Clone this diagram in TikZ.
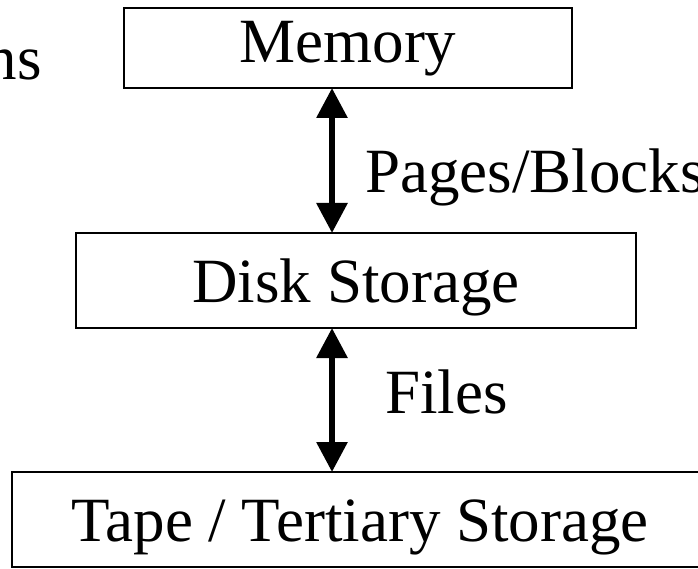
\documentclass[tikz,border=0pt]{standalone}
\usepackage{fontspec}
\setmainfont{Liberation Serif}
\usetikzlibrary{arrows.meta}
\begin{document}
\begin{tikzpicture}[x=1pt,y=1pt,
  box/.style={draw, line width=2.5pt, inner sep=0pt, outer sep=0pt, font=\fontsize{63}{70}\selectfont},
  lbl/.style={inner sep=0pt, font=\fontsize{63}{70}\selectfont},
  arr/.style={line width=6pt, {Triangle[length=30pt,width=30pt]}-{Triangle[length=30pt,width=30pt]}}]
\useasboundingbox (0,0) rectangle (698,568);
\fill[white] (0,0) rectangle (698,568);
\node[box, minimum width=448pt, minimum height=80pt, text height=44pt, text depth=14pt] (mem) at (348,520) {Memory};
\node[box, minimum width=560pt, minimum height=95pt, text height=44pt, text depth=0pt] (disk) at (356,287.5) {Disk Storage};
\node[box, minimum width=696pt, minimum height=95pt, text height=44pt, text depth=0pt] (tape) at (360,48.5) {Tape / Tertiary Storage};
\coordinate (ax) at (332,0);
\draw[arr] (ax |- mem.south) -- (ax |- disk.north);
\draw[arr] (ax |- disk.south) -- (ax |- tape.north);
\node[lbl, anchor=base west] (pb) at (365,375) {Pages/Blocks};
\node[lbl, anchor=base west] (files) at (385,155) {Files};
\node[lbl, anchor=base east] (ns) at (42,488) {ns};
\end{tikzpicture}
\end{document}
